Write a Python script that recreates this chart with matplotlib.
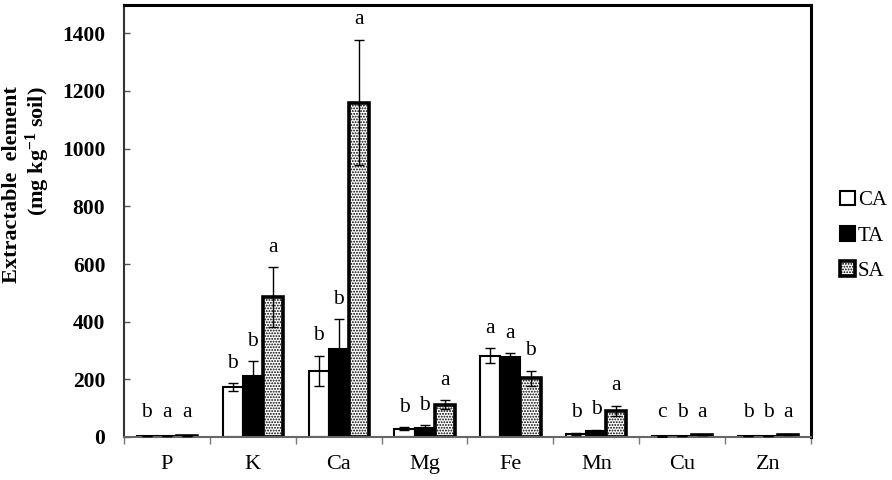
import matplotlib
matplotlib.use('Agg')
import matplotlib.pyplot as plt
import numpy as np

plt.rcParams['font.family'] = ['Liberation Serif', 'DejaVu Serif']
plt.rcParams['mathtext.default'] = 'regular'
plt.rcParams['hatch.linewidth'] = 0.9

# data (mg kg-1 soil)
elements = ['P', 'K', 'Ca', 'Mg', 'Fe', 'Mn', 'Cu', 'Zn']
treatments = ['CA', 'TA', 'SA']

ca_vals = [4, 174, 229, 28, 281, 10, 2, 3]
ta_vals = [4, 211, 305, 30, 278, 22, 3, 3]
sa_vals = [4, 486, 1160, 112, 203, 90, 7, 8]

ca_err = [1, 13, 53, 5, 26, 3, 0.5, 0.5]
ta_err = [1, 52, 104, 10, 13, 4, 0.5, 0.5]
sa_err = [1, 103, 218, 16, 27, 18, 1, 1]

ca_letters = ['b', 'b', 'b', 'b', 'a', 'b', 'c', 'b']
ta_letters = ['a', 'b', 'b', 'b', 'a', 'b', 'b', 'b']
sa_letters = ['a', 'a', 'a', 'a', 'b', 'a', 'a', 'a']

yticks = [0, 200, 400, 600, 800, 1000, 1200, 1400]

fig = plt.figure(figsize=(8.92, 4.8), dpi=100)
ax = fig.add_axes([124 / 892, 1 - 437 / 480, 687 / 892, 432.5 / 480])

x = np.arange(len(elements))
w = 0.234

styles = [
    dict(facecolor='white', edgecolor='black', linewidth=1.5),
    dict(facecolor='black', edgecolor='black', linewidth=1.5),
    dict(facecolor='white', edgecolor='black', linewidth=2.6, hatch='......'),
]
vals = [ca_vals, ta_vals, sa_vals]
errs = [ca_err, ta_err, sa_err]
letters = [ca_letters, ta_letters, sa_letters]

for k in range(3):
    pos = x + (k - 1) * w
    ax.bar(pos, vals[k], w, label=treatments[k], zorder=2, **styles[k])
    ax.errorbar(pos, vals[k], yerr=errs[k], fmt='none', ecolor='black',
                elinewidth=1, capsize=3.5, capthick=1, zorder=3)
    for i in range(len(elements)):
        top = max(vals[k][i] + errs[k][i] + 36, 52)
        ax.text(pos[i], top, letters[k][i], ha='center', va='bottom',
                fontsize=15.5)

ax.set_xlim(-0.5, len(elements) - 0.5)
ax.set_ylim(0, 1500)
ax.set_yticks(yticks)
ax.set_yticklabels([str(v) for v in yticks], fontsize=15.5, fontweight='bold')
ax.tick_params(axis='y', direction='in', length=4, width=1, color='#555555', pad=13.5)

ax.set_xticks(np.arange(-0.5, len(elements)), minor=False)
ax.set_xticklabels([])
ax.set_xticks(x, minor=True)
ax.set_xticklabels(elements, minor=True, fontsize=16)
ax.tick_params(axis='x', which='major', direction='out', length=5, width=1, color='#777777')
ax.tick_params(axis='x', which='minor', length=0, pad=13)

ax.spines['left'].set_linewidth(1.5)
ax.spines['left'].set_color('#333333')
ax.spines['bottom'].set_linewidth(1.5)
ax.spines['bottom'].set_color('#666666')
ax.spines['top'].set_linewidth(2.2)
ax.spines['right'].set_linewidth(2.2)

fig.text(27 / 892, 1 - 185 / 480, 'Extractable  element\n(mg kg$^{-1}$ soil)',
         rotation=90, ha='center', va='center', multialignment='right',
         fontsize=16, fontweight='bold', linespacing=1.05)

leg = ax.legend(loc='center left', bbox_to_anchor=(1.03, 0.465), frameon=False,
                fontsize=15, handlelength=0.7, handleheight=0.7,
                handletextpad=0.15, labelspacing=0.75, borderaxespad=0)

fig.savefig('out.png', dpi=100)
